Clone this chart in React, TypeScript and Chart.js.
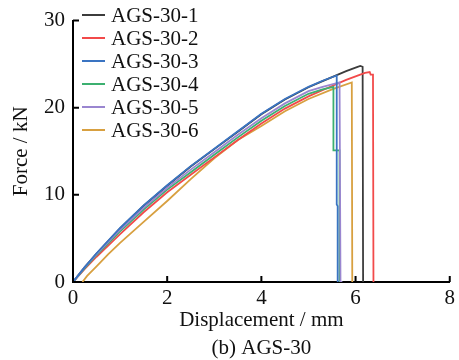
import React, { useEffect, useRef } from "react";
import { Chart, registerables } from "chart.js";

Chart.register(...registerables);

const seriesLabels = ["AGS-30-1", "AGS-30-2", "AGS-30-3", "AGS-30-4", "AGS-30-5", "AGS-30-6"];
const seriesColors = ["#3c3c3c", "#f24a4a", "#3a74c2", "#3cb070", "#9a86d0", "#d8a040"];
const drawOrder = [5, 3, 0, 2, 1, 4];

const xTicks = [0, 2, 4, 6, 8];
const yTicks = [0, 10, 20, 30];

// AGS-30-1 (black)
const s1X = [0, 0.25, 0.5, 1, 1.5, 2, 2.5, 3, 3.5, 4, 4.5, 5, 5.3, 5.6, 5.8, 6.0, 6.1, 6.15, 6.16];
const s1Y = [0, 1.7, 3.25, 6.15, 8.75, 11.05, 13.25, 15.25, 17.25, 19.25, 20.95, 22.35, 23.05, 23.75, 24.2, 24.6, 24.8, 24.7, 0];
// AGS-30-2 (red)
const s2X = [0, 0.25, 0.5, 1, 1.5, 2, 2.5, 3, 3.5, 4, 4.5, 5, 5.5, 5.8, 6.0, 6.2, 6.3, 6.32, 6.37, 6.38];
const s2Y = [0, 1.5, 2.9, 5.5, 8.0, 10.3, 12.3, 14.3, 16.3, 18.2, 19.9, 21.3, 22.5, 23.2, 23.6, 24.0, 24.1, 23.8, 23.8, 0];
// AGS-30-3 (blue)
const s3X = [0, 0.25, 0.5, 1, 1.5, 2, 2.5, 3, 3.5, 4, 4.5, 5, 5.3, 5.6, 5.6, 5.62, 5.62];
const s3Y = [0, 1.7, 3.3, 6.2, 8.8, 11.1, 13.3, 15.3, 17.3, 19.3, 21.0, 22.4, 23.1, 23.7, 8.9, 8.7, 0];
// AGS-30-4 (green)
const s4X = [0, 0.25, 0.5, 1, 1.5, 2, 2.5, 3, 3.5, 4, 4.5, 5, 5.3, 5.53, 5.53, 5.66, 5.66];
const s4Y = [0, 1.6, 3.1, 5.8, 8.3, 10.6, 12.6, 14.6, 16.6, 18.5, 20.2, 21.6, 22.1, 22.4, 15.1, 15.1, 0];
// AGS-30-5 (purple)
const s5X = [0, 0.25, 0.5, 1, 1.5, 2, 2.5, 3, 3.5, 4, 4.5, 5, 5.3, 5.66, 5.68, 5.72];
const s5Y = [0, 1.7, 3.2, 6.0, 8.5, 10.8, 12.9, 14.9, 16.9, 18.8, 20.5, 21.9, 22.4, 22.9, 0, 0];
// AGS-30-6 (orange)
const s6X = [0.2, 0.3, 0.5, 0.75, 1, 1.5, 2, 2.5, 3, 3.5, 4, 4.5, 5, 5.5, 5.92, 5.93];
const s6Y = [0, 0.7, 1.8, 3.2, 4.5, 6.9, 9.3, 11.8, 14.2, 16.3, 17.9, 19.6, 21.0, 22.1, 22.9, 0];

const seriesX = [s1X, s2X, s3X, s4X, s5X, s6X];
const seriesY = [s1Y, s2Y, s3Y, s4Y, s5Y, s6Y];

const FONT = '"Liberation Serif", "Times New Roman", serif';
const FS = 21;

const decorPlugin = {
  id: "decor",
  afterDraw(chart: any) {
    const ctx = chart.ctx;
    const area = chart.chartArea;
    const xs = chart.scales.x;
    const ys = chart.scales.y;
    ctx.save();
    // inward ticks
    ctx.strokeStyle = "#000";
    ctx.lineWidth = 2;
    ctx.beginPath();
    xTicks.forEach((v) => {
      const px = xs.getPixelForValue(v);
      ctx.moveTo(px, area.bottom);
      ctx.lineTo(px, area.bottom - 6);
    });
    yTicks.forEach((v) => {
      const py = ys.getPixelForValue(v);
      ctx.moveTo(area.left, py);
      ctx.lineTo(area.left + 6, py);
    });
    ctx.stroke();

    // legend
    ctx.font = `${FS}px ${FONT}`;
    ctx.textBaseline = "middle";
    ctx.textAlign = "left";
    chart.data.datasets.forEach((ds: any, i: number) => {
      const y = 15 + i * 23;
      ctx.strokeStyle = ds.borderColor;
      ctx.lineWidth = 2;
      ctx.beginPath();
      ctx.moveTo(82, y);
      ctx.lineTo(105, y);
      ctx.stroke();
      ctx.fillStyle = "#111";
      ctx.fillText(ds.label, 111, y + 1);
    });

    // axis titles
    ctx.fillStyle = "#111";
    ctx.textAlign = "center";
    ctx.fillText("Displacement / mm", (area.left + area.right) / 2, 320);
    ctx.fillText("(b) AGS-30", (area.left + area.right) / 2, 348);
    ctx.translate(21, (area.top + area.bottom) / 2);
    ctx.rotate(-Math.PI / 2);
    ctx.fillText("Force / kN", 0, 0);
    ctx.restore();
  },
};

export default function App() {
  const canvasRef = useRef<HTMLCanvasElement | null>(null);

  useEffect(() => {
    document.body.style.margin = "0";
    const canvas = canvasRef.current;
    if (!canvas) return;
    const datasets = seriesLabels.map((label, i) => ({
      label,
      data: seriesX[i].map((x, j) => ({ x, y: seriesY[i][j] })),
      borderColor: seriesColors[i],
      backgroundColor: seriesColors[i],
      borderWidth: 1.8,
      pointRadius: 0,
      tension: 0,
      fill: false,
      order: drawOrder[i],
    }));
    const chart = new Chart(canvas, {
      type: "line",
      data: { datasets },
      options: {
        responsive: false,
        animation: false,
        maintainAspectRatio: false,
        layout: { padding: { top: 15, right: 8, left: 0, bottom: 0 } },
        plugins: { legend: { display: false }, tooltip: { enabled: false } },
        scales: {
          x: {
            type: "linear",
            min: 0,
            max: 8,
            afterFit: (s: any) => {
              s.height = 78;
            },
            afterBuildTicks: (s: any) => {
              s.ticks = xTicks.map((v) => ({ value: v }));
            },
            ticks: {
              color: "#111",
              font: { family: FONT, size: FS },
              padding: 4,
              maxRotation: 0,
            },
            grid: { display: false, drawTicks: false },
            border: { display: true, color: "#000", width: 2 },
          },
          y: {
            type: "linear",
            min: 0,
            max: 30,
            afterFit: (s: any) => {
              s.width = 73;
            },
            afterBuildTicks: (s: any) => {
              s.ticks = yTicks.map((v) => ({ value: v }));
            },
            ticks: {
              color: "#111",
              font: { family: FONT, size: FS },
              padding: 8,
            },
            grid: { display: false, drawTicks: false },
            border: { display: true, color: "#000", width: 2 },
          },
        },
      },
      plugins: [decorPlugin],
    });
    return () => chart.destroy();
  }, []);

  return (
    <div style={{ width: 459, height: 360, background: "#fff" }}>
      <canvas ref={canvasRef} width={459} height={360} style={{ display: "block" }} />
    </div>
  );
}
